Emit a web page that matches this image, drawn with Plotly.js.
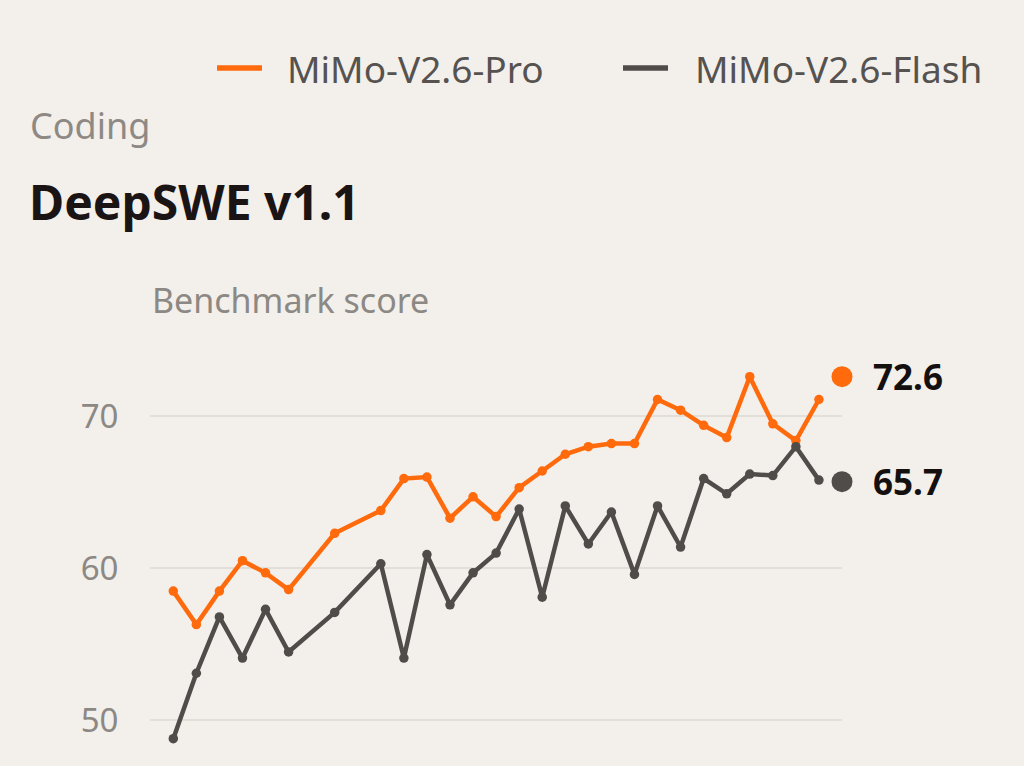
<!DOCTYPE html>
<html>
<head>
<meta charset="utf-8">
<script src="https://cdn.plot.ly/plotly-3.0.1.min.js"></script>
<style>
  html, body { margin: 0; padding: 0; background: #f3efea; }
  #chart { width: 1024px; height: 766px; }
</style>
</head>
<body>
<div id="chart"></div>
<script>
// run index (some runs missing), scores per model
const runs = [0, 1, 2, 3, 4, 5, 7, 9, 10, 11, 12, 13, 14, 15, 16, 17, 18, 19, 20, 21, 22, 23, 24, 25, 26, 27, 28];
const proScores = [58.5, 56.3, 58.5, 60.5, 59.7, 58.6, 62.3, 63.8, 65.9, 66.0, 63.3, 64.7, 63.4, 65.3, 66.4, 67.5, 68.0, 68.2, 68.2, 71.1, 70.4, 69.4, 68.6, 72.6, 69.5, 68.4, 71.1];
const flashScores = [48.8, 53.1, 56.8, 54.1, 57.3, 54.5, 57.1, 60.3, 54.1, 60.9, 57.6, 59.7, 61.0, 63.9, 58.1, 64.1, 61.6, 63.7, 59.6, 64.1, 61.4, 65.9, 64.9, 66.2, 66.1, 68.0, 65.8];

const endRun = 29;
const finalScores = [72.6, 65.7];

const seriesNames = ['MiMo-V2.6-Pro', 'MiMo-V2.6-Flash'];
const yTicks = [50, 60, 70];

const ORANGE = '#ff6a0c';
const GRAY = '#4f4c4a';
const COLORS = [ORANGE, GRAY];
const FONT = 'Noto Sans, Open Sans, sans-serif';

// plot box in pixels, used to place the hand-made legend and headings
const W = 1024, H = 766;
const M = { t: 325, b: 0, l: 150, r: 182 };
const pw = W - M.l - M.r, ph = H - M.t - M.b;
const px = v => (v - M.l) / pw;
const py = v => (H - v) / ph;

const traces = [
    { x: runs, y: proScores, name: seriesNames[0], type: 'scatter', mode: 'lines+markers',
      line: { color: ORANGE, width: 4.5 }, marker: { color: ORANGE, size: 9.5 }, hoverinfo: 'y' },
    { x: runs, y: flashScores, name: seriesNames[1], type: 'scatter', mode: 'lines+markers',
      line: { color: GRAY, width: 4.5 }, marker: { color: GRAY, size: 9.5 }, hoverinfo: 'y' },
    // final value dots
    { x: [endRun, endRun], y: finalScores, type: 'scatter', mode: 'markers', cliponaxis: false,
      marker: { color: COLORS, size: 21 }, hoverinfo: 'y' }
];

// legend: short thick dash + label
const legendItems = [
    { x0: 217, x1: 262, tx: 285 },
    { x0: 623, x1: 668, tx: 693 }
];
const legendY = 68;

const shapes = legendItems.map((it, i) => ({
    type: 'line', xref: 'paper', yref: 'paper',
    x0: px(it.x0), x1: px(it.x1), y0: py(legendY), y1: py(legendY),
    line: { color: COLORS[i], width: 5.5 }
}));

const annotations = [
    ...legendItems.map((it, i) => ({
        text: seriesNames[i], xref: 'paper', yref: 'paper', x: px(it.tx), y: py(legendY),
        xanchor: 'left', yanchor: 'middle', showarrow: false,
        font: { size: 37, color: '#555250' }
    })),
    { text: 'Coding', xref: 'paper', yref: 'paper', x: px(28), y: py(125),
      xanchor: 'left', yanchor: 'middle', showarrow: false,
      font: { size: 36, color: '#8e8984' } },
    { text: 'Benchmark score', xref: 'paper', yref: 'paper', x: px(150), y: py(300),
      xanchor: 'left', yanchor: 'middle', showarrow: false,
      font: { size: 34, color: '#8c8884' } },
    ...finalScores.map(v => ({
        text: v.toFixed(1), x: endRun, y: v, xref: 'x', yref: 'y',
        xanchor: 'left', yanchor: 'middle', xshift: 29, showarrow: false,
        font: { size: 35, color: '#141010', weight: 700 }
    }))
];

const layout = {
    width: W, height: H,
    paper_bgcolor: '#f3efea', plot_bgcolor: '#f3efea',
    font: { family: FONT, color: '#8c8884', size: 28 },
    margin: M,
    showlegend: false,
    title: {
        text: 'DeepSWE v1.1', xref: 'container', yref: 'container',
        x: 29 / W, xanchor: 'left', y: 1 - 203 / H, yanchor: 'middle',
        font: { size: 48, color: '#1a1414', weight: 700 }
    },
    xaxis: {
        range: [-1.01, 29.0], showgrid: false, zeroline: false,
        showticklabels: false, showline: false, fixedrange: true
    },
    yaxis: {
        range: [47, 76], tickvals: yTicks, ticktext: yTicks.map(String),
        gridcolor: '#e3ded8', gridwidth: 2, zeroline: false, showline: false,
        ticks: 'outside', ticklen: 24, tickcolor: 'rgba(0,0,0,0)',
        tickfont: { size: 33, color: '#8c8884' }, fixedrange: true
    },
    shapes: shapes,
    annotations: annotations,
    dragmode: false
};

Plotly.newPlot('chart', traces, layout, { displayModeBar: false, staticPlot: true });
</script>
</body>
</html>
